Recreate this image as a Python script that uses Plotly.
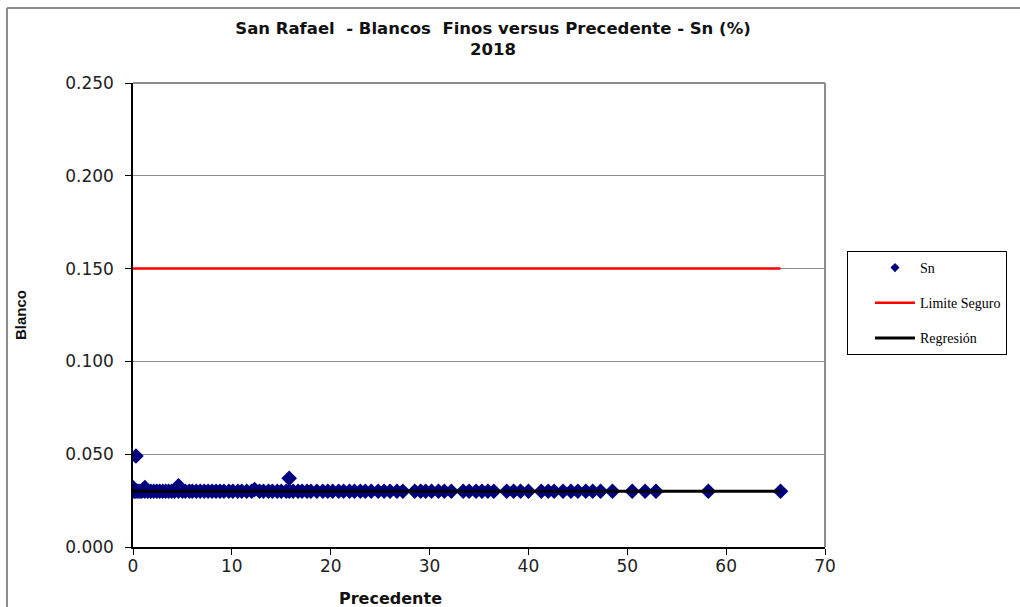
import plotly.graph_objects as go

# ---- data ----
sn_x = [0.0, 0.0, 0.1, 0.2, 0.3, 0.3, 0.5, 0.7, 0.9, 1.2, 1.2, 1.5, 1.8, 2.1, 2.4, 2.7,
        3.0, 3.3, 3.6, 3.9, 4.2, 4.6, 4.6, 5.0, 5.3, 5.7, 6.0, 6.4, 6.8, 7.2, 7.6, 8.0,
        8.4, 8.8, 9.2, 9.7, 10.1, 10.6, 11.0, 11.5, 12.0, 12.3, 12.8, 13.2, 13.7, 14.1,
        14.6, 15.0, 15.5, 15.8, 15.8, 16.2, 16.7, 17.1, 17.6, 18.0, 18.6, 19.2, 19.7,
        20.2, 20.8, 21.3, 21.9, 22.4, 23.0, 23.5, 24.1, 24.8, 25.4, 26.0, 26.7, 27.3,
        28.5, 29.1, 29.6, 30.2, 30.9, 31.5, 32.2, 33.4, 34.0, 34.7, 35.3, 35.9, 36.5,
        37.8, 38.5, 39.2, 40.0, 41.3, 42.0, 42.6, 43.5, 44.3, 45.0, 45.8, 46.5, 47.3,
        48.5, 50.5, 51.8, 52.9, 58.2, 65.5]
sn_y = [0.030, 0.032, 0.031, 0.030, 0.030, 0.049, 0.030, 0.030, 0.030, 0.030, 0.032, 0.030,
        0.030, 0.030, 0.030, 0.030, 0.030, 0.030, 0.030, 0.030, 0.030, 0.030, 0.033, 0.030,
        0.030, 0.030, 0.030, 0.030, 0.030, 0.030, 0.030, 0.030, 0.030, 0.030, 0.030, 0.030,
        0.030, 0.030, 0.030, 0.030, 0.030, 0.031, 0.030, 0.030, 0.030, 0.030, 0.030, 0.030,
        0.030, 0.030, 0.037, 0.030, 0.030, 0.030, 0.030, 0.030, 0.030, 0.030, 0.030, 0.030,
        0.030, 0.030, 0.030, 0.030, 0.030, 0.030, 0.030, 0.030, 0.030, 0.030, 0.030, 0.030,
        0.030, 0.030, 0.030, 0.030, 0.030, 0.030, 0.030, 0.030, 0.030, 0.030, 0.030, 0.030,
        0.030, 0.030, 0.030, 0.030, 0.030, 0.030, 0.030, 0.030, 0.030, 0.030, 0.030, 0.030,
        0.030, 0.030, 0.030, 0.030, 0.030, 0.030, 0.030, 0.030]
limit_x = [0.0, 65.5]
limit_y = [0.150, 0.150]
reg_x = [0.0, 65.5]
reg_y = [0.030, 0.030]
x_ticks = [0, 10, 20, 30, 40, 50, 60, 70]
y_ticks = [0.0, 0.05, 0.10, 0.15, 0.20, 0.25]

NAVY = "#00007f"
fig = go.Figure()
fig.add_trace(go.Scatter(x=sn_x, y=sn_y, mode="markers", name="Sn", showlegend=False,
                         marker=dict(symbol="diamond", size=12, color=NAVY)))
# legend entry for Sn with the small marker of the reference legend
fig.add_trace(go.Scatter(x=[None], y=[None], mode="markers", name="Sn", legendgroup="a",
                         marker=dict(symbol="diamond", size=7, color=NAVY)))
fig.add_trace(go.Scatter(x=limit_x, y=limit_y, mode="lines", name="Limite Seguro",
                         line=dict(color="#ff0000", width=2.5), legendgroup="b"))
fig.add_trace(go.Scatter(x=reg_x, y=reg_y, mode="lines", name="Regresión",
                         line=dict(color="#000000", width=3), legendgroup="c"))

L, R, T, B = 133, 195, 83, 60
W, H = 1020, 607
pw, ph = W - L - R, H - T - B

def px_x(p):
    return (p - L) / pw

def px_y(p):
    return (H - B - p) / ph

SANS = "DejaVu Sans, Arial"
fig.update_layout(
    width=W, height=H,
    margin=dict(l=L, r=R, t=T, b=B, pad=0),
    paper_bgcolor="white", plot_bgcolor="white",
    font=dict(family=SANS, color="#222222", size=17),
    title=dict(text="<b>San Rafael&nbsp; - Blancos&nbsp; Finos versus Precedente - Sn (%)<br>2018</b>",
               x=px_x(493), xanchor="center", xref="paper", y=1 - 34 / H, yanchor="middle",
               font=dict(size=16.5, color="#111111", family=SANS)),
    showlegend=True,
    legend=dict(x=px_x(847), y=px_y(251), xanchor="left", yanchor="top",
                bordercolor="#000000", borderwidth=1, bgcolor="white",
                font=dict(family="Liberation Serif, Times New Roman", size=14, color="#000000"),
                traceorder="grouped", tracegroupgap=14, itemsizing="trace",
                indentation=22, itemwidth=40),
    xaxis=dict(range=[0, 70], tickvals=x_ticks, showgrid=False, zeroline=False,
               showline=True, linecolor="#000000", linewidth=1.5, automargin=False,
               ticks="outside", ticklen=6, tickcolor="#000000", ticklabelstandoff=-3),
    yaxis=dict(range=[0, 0.25], tickvals=y_ticks, tickformat=".3f", showgrid=True,
               gridcolor="#8c8c8c", gridwidth=1, zeroline=False, automargin=False,
               showline=True, linecolor="#000000", linewidth=1.5,
               ticks="outside", ticklen=6, tickcolor="#000000", ticklabelstandoff=8),
    annotations=[
        dict(text="<b>Precedente</b>", xref="paper", yref="paper", x=px_x(390), y=px_y(598),
             xanchor="center", yanchor="middle", showarrow=False,
             font=dict(size=16, color="#111111", family=SANS)),
        dict(text="<b>Blanco</b>", xref="paper", yref="paper", x=px_x(20), y=px_y(315),
             xanchor="center", yanchor="middle", showarrow=False, textangle=-90,
             font=dict(size=15, color="#111111", family="Liberation Sans, Arial")),
    ],
    shapes=[
        dict(type="line", xref="paper", yref="paper", x0=0, x1=1, y0=1, y1=1,
             line=dict(color="#8c8c8c", width=2), layer="below"),
        dict(type="line", xref="paper", yref="paper", x0=1, x1=1, y0=0, y1=1,
             line=dict(color="#8c8c8c", width=2), layer="below"),
        dict(type="line", xref="paper", yref="paper", x0=px_x(7), x1=px_x(1025),
             y0=px_y(8), y1=px_y(8), line=dict(color="#8c8c8c", width=2)),
        dict(type="line", xref="paper", yref="paper", x0=px_x(7), x1=px_x(7),
             y0=px_y(8), y1=px_y(612), line=dict(color="#8c8c8c", width=2)),
    ],
)

fig.write_html("out.html")
